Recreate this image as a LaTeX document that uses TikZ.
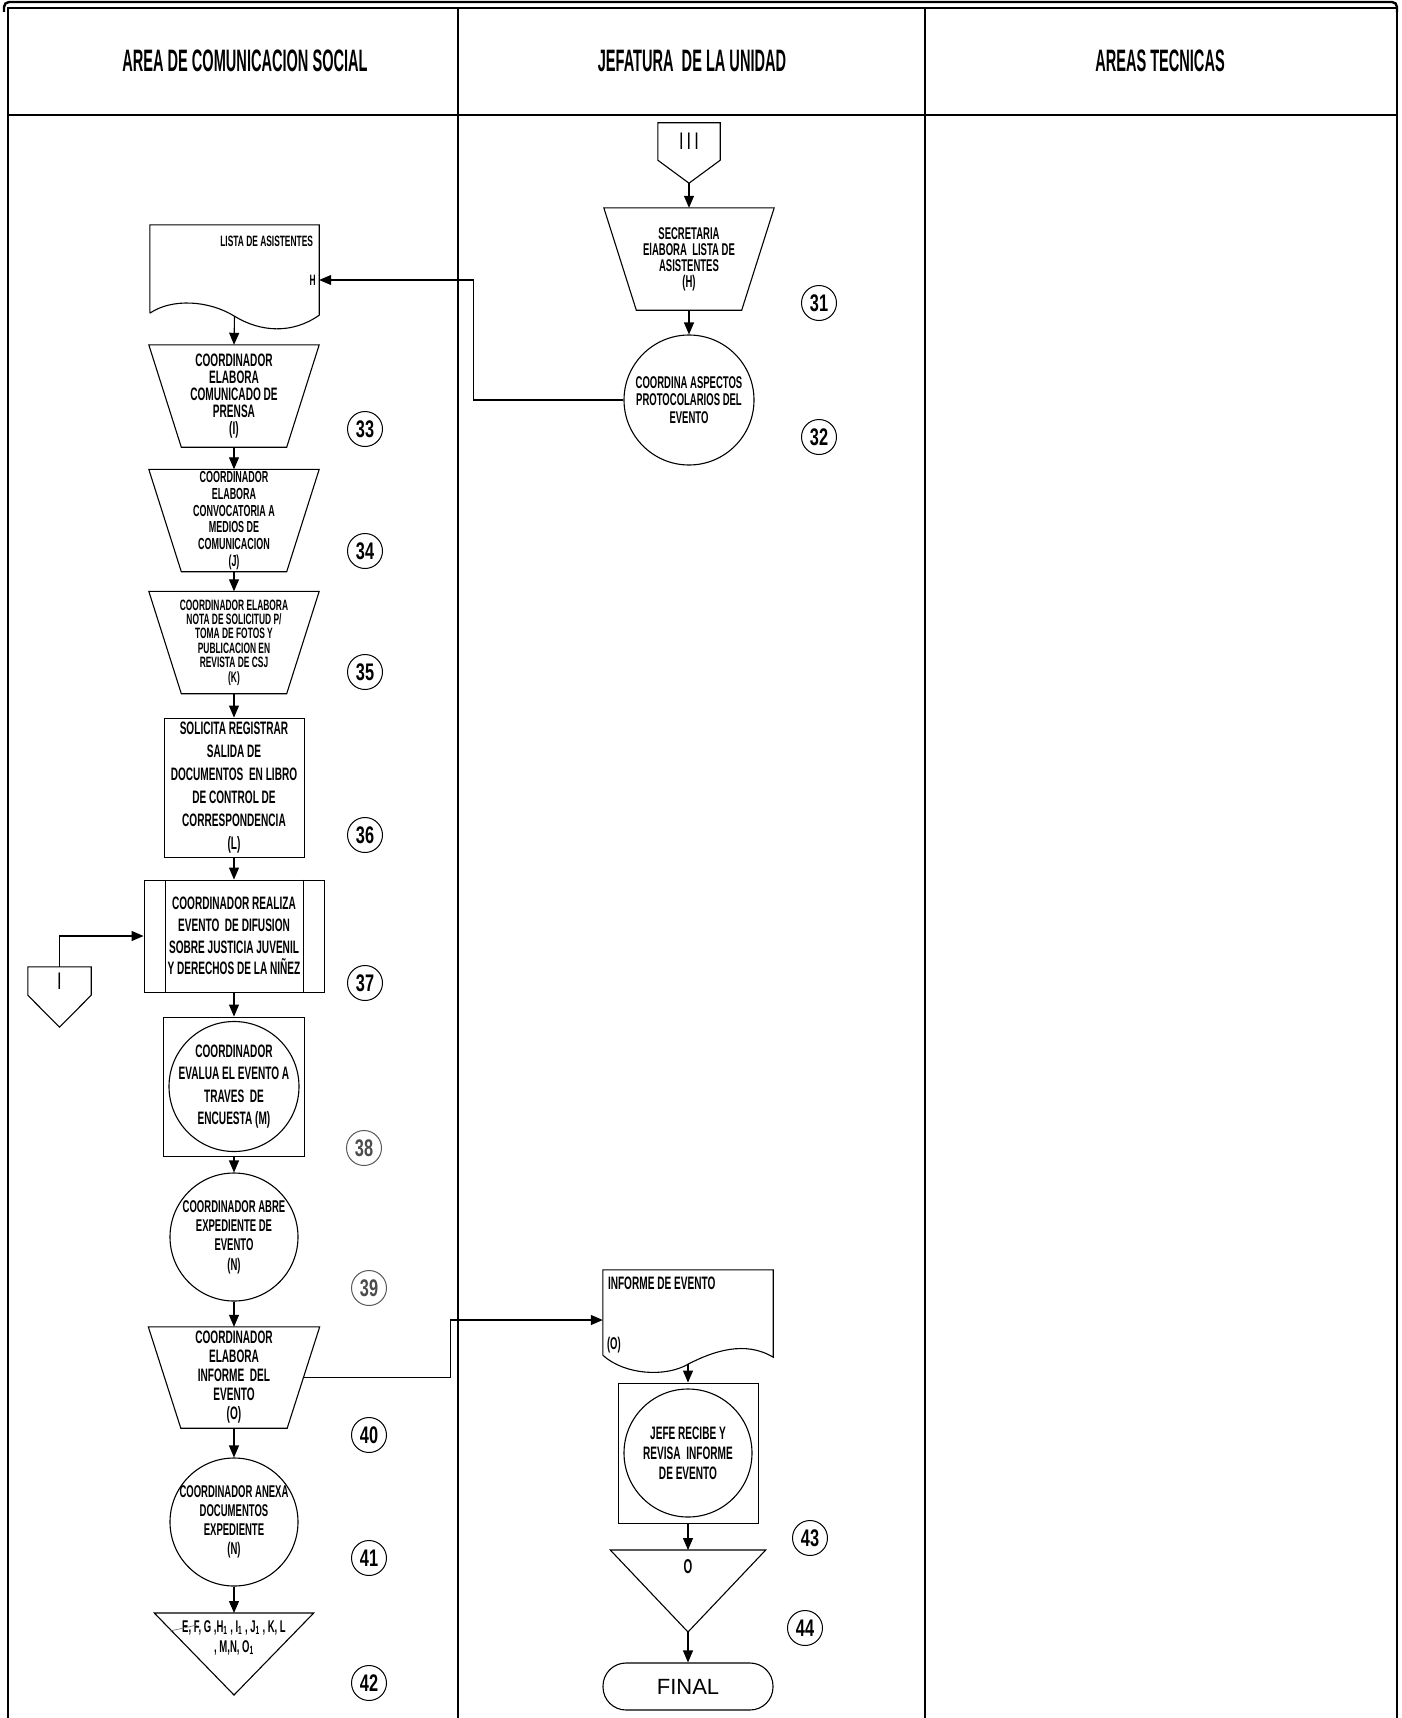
\documentclass[tikz,border=0pt]{standalone}
\usepackage{fontspec}
\setmainfont{Liberation Sans}
\newfontfamily\cadfont{Liberation Sans}[FakeStretch=0.56]
\newfontfamily\headfont{Liberation Sans}[FakeStretch=0.47]
\newfontfamily\numfont{Liberation Sans}[FakeStretch=0.68]
\usetikzlibrary{arrows.meta,positioning}
\newcommand\cadsize[2]{\cadfont\bfseries\fontsize{#1}{#2}\selectfont}
% outlines drawn round plain nodes
\newcommand\manualtrap[1]{\draw[shapeline] (#1.north west) -- (#1.north east) -- ([xshift=-32.5pt]#1.south east) -- ([xshift=32.5pt]#1.south west) -- cycle;}
\newcommand\offpage[2]{\draw[shapeline] (#1.south west) -- (#1.north west) -- (#1.north east) -- (#1.south east) -- ([yshift=-#2]#1.south) -- cycle;}
\newcommand\archtri[1]{\draw[shapeline] (#1.north west) -- (#1.north east) -- ([yshift=-82pt]#1.north) -- cycle;}
\tikzset{
  shapeline/.style={line width=1.1pt},
  flow/.style={line width=1.1pt, -{Triangle[length=12pt,width=10pt]}},
  lane/.style={font=\headfont\bfseries\fontsize{31}{31}\selectfont},
  trapbox/.style={rectangle, minimum width=170pt, minimum height=102pt, inner sep=0pt, align=center},
  procbox/.style={rectangle, draw, line width=0.9pt, inner sep=0pt, align=center},
  opcircle/.style={circle, draw, line width=1.1pt, inner sep=-14pt, align=center},
  docbox/.style={rectangle, inner sep=0pt},
  archbox/.style={rectangle, anchor=north, inner xsep=0pt, align=center},
  stepnum/.style={circle, draw, line width=1pt, minimum size=35pt, inner sep=0pt, font=\numfont\bfseries\fontsize{24}{24}\selectfont},
}
\begin{document}
\begin{tikzpicture}[x=1pt,y=-1pt]
  \useasboundingbox (0,0) rectangle (1401,1718);
  % frame and lanes
  \draw[line width=2.4pt, rounded corners=5pt] (4,12) -- (4,2) -- (1397,2) -- (1397,12);
  \draw[line width=1.5pt] (8,1718) -- (8,8) -- (1397,8) -- (1397,1718);
  \draw[line width=1.5pt] (458,8) -- (458,1718);
  \draw[line width=1.5pt] (925,8) -- (925,1718);
  \draw[line width=2.2pt] (8,115) -- (1397,115);
  \node[lane] (laneCom) at (245,61) {AREA DE COMUNICACION SOCIAL};
  \node[lane] (laneJef) at (692,61) {JEFATURA\ \ DE LA UNIDAD};
  \node[lane] (laneTec) at (1160,61) {AREAS TECNICAS};

  % jefatura, upper part
  \node[docbox, minimum width=62pt, minimum height=37pt, font=\numfont\fontsize{24}{24}\selectfont] (conIII) at (689,141.5) {I\hspace{3pt}I\hspace{3pt}I};
  \offpage{conIII}{23pt}
  \node[trapbox, font={\cadsize{17}{16}}] (t31) at (689,259) {SECRETARIA\\ElABORA\ \ LISTA DE\\ASISTENTES\\(H)};
  \manualtrap{t31}
  \node[opcircle, minimum size=130pt, font={\cadsize{17}{17.5}}] (c32) at (689,400) {COORDINA ASPECTOS\\PROTOCOLARIOS DEL\\EVENTO};

  % comunicacion social
  \node[docbox, minimum width=169pt, minimum height=88pt] (lst) at (234.5,269) {};
  \draw[shapeline] (lst.south west) -- (lst.north west) -- (lst.north east) -- ([yshift=-2pt]lst.south east)
    .. controls +(-27,19) and +(26,16) .. ([yshift=-3pt]lst.south)
    .. controls +(-26,-16) and +(22,-15) .. (lst.south west);
  \node[anchor=north east, inner sep=0pt, font={\cadsize{15}{15}}] (lstT) at ([xshift=-6pt,yshift=-11pt]lst.north east) {LISTA DE ASISTENTES};
  \node[anchor=east, inner sep=0pt, font={\cadsize{15}{15}}] (lstH) at (316,280) {H};

  \node[trapbox, font={\cadsize{18}{17}}] (t33) at (234,396) {COORDINADOR\\ELABORA\\COMUNICADO DE\\PRENSA\\(I)};
  \manualtrap{t33}
  \node[trapbox, font={\cadsize{16}{16.8}}] (t34) at (234,520.5) {COORDINADOR\\ELABORA\\CONVOCATORIA A\\MEDIOS DE\\COMUNICACION\\(J)};
  \manualtrap{t34}
  \node[trapbox, font={\cadsize{15}{14.4}}] (t35) at (234,642.5) {COORDINADOR ELABORA\\NOTA DE SOLICITUD P/\\TOMA DE FOTOS Y\\PUBLICACION EN\\REVISTA DE CSJ\\(K)};
  \manualtrap{t35}
  \node[procbox, minimum width=140pt, minimum height=139pt, font={\cadsize{18}{23}}] (rL) at (234,787.5) {SOLICITA REGISTRAR\\SALIDA DE\\DOCUMENTOS\ \ EN LIBRO\\DE CONTROL DE\\CORRESPONDENCIA\\(L)};
  \node[procbox, minimum width=180pt, minimum height=112pt, font={\cadsize{18}{21.7}}] (pEv) at (234,936) {COORDINADOR REALIZA\\EVENTO\ \ DE DIFUSION\\SOBRE JUSTICIA JUVENIL\\Y DERECHOS DE LA NIÑEZ};
  \draw[shapeline] ([xshift=22pt]pEv.north west) -- ([xshift=22pt]pEv.south west);
  \draw[shapeline] ([xshift=-21pt]pEv.north east) -- ([xshift=-21pt]pEv.south east);
  \node[docbox, minimum width=63pt, minimum height=28pt, font=\numfont\fontsize{24}{24}\selectfont] (conI) at (59.5,981) {I};
  \offpage{conI}{32pt}
  \node[procbox, minimum width=141pt, minimum height=139pt] (bM) at (234,1086.5) {};
  \node[opcircle, minimum size=130pt, font={\cadsize{18}{22.3}}] (cM) at (bM) {COORDINADOR\\EVALUA EL EVENTO A\\TRAVES\ \ DE\\ENCUESTA (M)};
  \node[opcircle, minimum size=128pt, font={\cadsize{17}{19.3}}] (cN) at (234,1237) {COORDINADOR ABRE\\EXPEDIENTE DE\\EVENTO\\(N)};
  \node[trapbox, minimum width=171pt, minimum height=101pt, font={\cadsize{18}{19}}] (t40) at (234,1377.5) {COORDINADOR\\ELABORA\\INFORME\ \ DEL\\EVENTO\\(O)};
  \manualtrap{t40}
  \node[opcircle, minimum size=128pt, font={\cadsize{17}{19}}] (cAnx) at (234,1522) {COORDINADOR ANEXA\\DOCUMENTOS\\EXPEDIENTE\\(N)};
  \node[archbox, minimum width=159pt, inner ysep=7pt, font={\cadsize{17}{20}}] (arch42) at (234,1613) {E, F, G ,H\textsubscript{1} , I\textsubscript{1} , J\textsubscript{1} , K, L\\, M,N, O\textsubscript{1}};
  \archtri{arch42}
  \draw[line width=0.6pt, black!60] (170,1631) -- (197,1625);

  % jefatura, lower part
  \node[docbox, minimum width=170pt, minimum height=85pt] (infO) at (688,1312.5) {};
  \draw[shapeline] (infO.south west) -- (infO.north west) -- (infO.north east) -- ([yshift=-2pt]infO.south east)
    .. controls +(-28,-17) and +(25,-13) .. ([yshift=-9pt]infO.south)
    .. controls +(-22,13) and +(22,20) .. (infO.south west);
  \node[anchor=north west, inner sep=0pt, font={\cadsize{18}{18}}] (infT) at ([xshift=5pt,yshift=-7pt]infO.north west) {INFORME DE EVENTO};
  \node[anchor=south west, inner sep=0pt, font={\cadsize{17}{17}}] (infS) at ([xshift=4pt,yshift=2pt]infO.south west) {(O)};
  \node[procbox, minimum width=140pt, minimum height=140pt] (bJ) at (688,1453) {};
  \node[opcircle, minimum size=128pt, font={\cadsize{18}{20}}] (cJ) at (bJ) {JEFE RECIBE Y\\REVISA\ \ INFORME\\DE EVENTO};
  \node[archbox, minimum width=155pt, inner ysep=9pt, font={\cadsize{20}{20}}] (archO) at (688,1550) {O};
  \archtri{archO}
  \node[rectangle, draw, line width=1.1pt, rounded corners=23pt, minimum width=170pt, minimum height=47pt, font=\fontsize{22}{22}\selectfont] (fin) at (688,1686.5) {FINAL};

  % step numbers
  \node[stepnum] (n31) at (819,303) {31};
  \node[stepnum] (n32) at (819,437) {32};
  \node[stepnum] (n33) at (365,429) {33};
  \node[stepnum] (n34) at (365,551) {34};
  \node[stepnum] (n35) at (365,672) {35};
  \node[stepnum] (n36) at (365,835) {36};
  \node[stepnum] (n37) at (365,983) {37};
  \node[stepnum, draw=black!65, text=black!70] (n38) at (364,1148) {38};
  \node[stepnum, draw=black!65, text=black!70] (n39) at (369,1288) {39};
  \node[stepnum] (n40) at (369,1435) {40};
  \node[stepnum] (n41) at (369,1558) {41};
  \node[stepnum] (n42) at (369,1683) {42};
  \node[stepnum] (n43) at (810,1538) {43};
  \node[stepnum] (n44) at (805,1628) {44};

  % connectors
  \draw[flow] ([yshift=-23pt]conIII.south) -- (t31.north);
  \draw[flow] (t31.south) -- (c32.north);
  \draw[flow] (c32.west) -- ++(-150,0) |- (lstH -| lst.east);
  \draw[flow] ([yshift=-3pt]lst.south) -- (t33.north);
  \draw[flow] (t33.south) -- (t34.north);
  \draw[flow] (t34.south) -- (t35.north);
  \draw[flow] (t35.south) -- (rL.north);
  \draw[flow] (rL.south) -- (pEv.north);
  \draw[flow] (conI.north) |- (pEv.west);
  \draw[flow] (pEv.south) -- (bM.north);
  \draw[flow] (bM.south) -- (cN.north);
  \draw[flow] (cN.south) -- (t40.north);
  \draw[flow] ([xshift=-16pt]t40.east) -- ++(147,0) |- ([yshift=-7.5pt]infO.west);
  \draw[flow] (t40.south) -- (cAnx.north);
  \draw[flow] (cAnx.south) -- (arch42.north);
  \draw[flow] ([yshift=-9pt]infO.south) -- (bJ.north);
  \draw[flow] (bJ.south) -- (archO.north);
  \draw[flow] ([yshift=-82pt]archO.north) -- (fin.north);
\end{tikzpicture}
\end{document}
